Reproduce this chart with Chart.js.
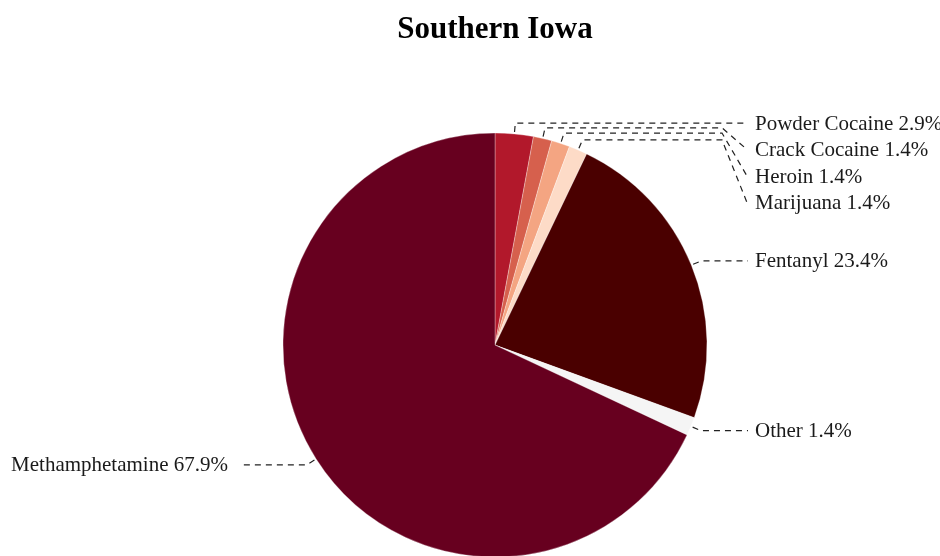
<!DOCTYPE html>
<html lang="en">
<head>
    <meta charset="UTF-8">
    <title>Southern Iowa</title>
    <script src="https://cdn.jsdelivr.net/npm/chart.js"></script>
    <style>
        html, body { margin: 0; padding: 0; background: #fff; }
        #wrap { width: 940px; height: 556px; }
    </style>
</head>
<body>
    <div id="wrap"><canvas id="pieChart"></canvas></div>

    <script>
        // Drug categories, clockwise from 12 o'clock
        const drugs = ["Powder Cocaine", "Crack Cocaine", "Heroin", "Marijuana", "Fentanyl", "Other", "Methamphetamine"];
        const shares = [2.9, 1.4, 1.4, 1.4, 23.4, 1.4, 67.9];
        const sliceColors = ["#b2182b", "#d6604d", "#f4a582", "#fddbc7", "#4a0000", "#f5f5f5", "#67001f"];

        const serif = "'Liberation Serif', 'Times New Roman', serif";

        // Draws the dashed leader lines and the outside labels
        const leaderLabels = {
            id: "leaderLabels",
            afterDatasetsDraw(chart) {
                const ctx = chart.ctx;
                const meta = chart.getDatasetMeta(0);
                let lastRightY = -Infinity;
                ctx.save();
                ctx.font = "21px " + serif;
                ctx.fillStyle = "#1a1a1a";
                ctx.strokeStyle = "#222";
                ctx.lineWidth = 1.2;
                ctx.setLineDash([6, 5]);
                ctx.textBaseline = "middle";

                meta.data.forEach((arc, i) => {
                    const p = arc.getProps(["x", "y", "startAngle", "endAngle", "outerRadius"], true);
                    const mid = (p.startAngle + p.endAngle) / 2;
                    const cos = Math.cos(mid), sin = Math.sin(mid);
                    const x0 = p.x + cos * (p.outerRadius + 2), y0 = p.y + sin * (p.outerRadius + 2);
                    const x1 = p.x + cos * (p.outerRadius + 11), y1 = p.y + sin * (p.outerRadius + 11);
                    const right = cos >= 0;
                    const text = drugs[i] + " " + shares[i].toFixed(1) + "%";

                    ctx.beginPath();
                    ctx.moveTo(x0, y0);
                    ctx.lineTo(x1, y1);
                    if (right) {
                        let ly = Math.max(y1, lastRightY + 26.5);
                        lastRightY = ly;
                        if (ly - y1 > 2) {
                            ctx.lineTo(722, y1);
                            ctx.lineTo(747, ly);
                        } else {
                            ctx.lineTo(748, y1);
                        }
                        ctx.stroke();
                        ctx.textAlign = "left";
                        ctx.fillText(text, 755, ly + 1);
                    } else {
                        ctx.lineTo(243, y1);
                        ctx.stroke();
                        ctx.textAlign = "right";
                        ctx.fillText(text, 228, y1 + 1);
                    }
                });
                ctx.restore();
            }
        };

        new Chart(document.getElementById("pieChart"), {
            type: "pie",
            data: {
                labels: drugs,
                datasets: [{
                    data: shares,
                    backgroundColor: sliceColors,
                    borderColor: "rgba(255,255,255,0.6)",
                    borderWidth: 0.5,
                    radius: 212
                }]
            },
            options: {
                responsive: true,
                maintainAspectRatio: false,
                animation: false,
                layout: { padding: { left: 50, right: 0, top: 0, bottom: 0 } },
                plugins: {
                    legend: { display: false },
                    tooltip: { enabled: false },
                    title: {
                        display: true,
                        text: "Southern Iowa",
                        color: "#000",
                        font: { family: serif, size: 31, weight: "bold", lineHeight: 1.2 },
                        padding: { top: 11, bottom: 86 }
                    }
                }
            },
            plugins: [leaderLabels]
        });
    </script>
</body>
</html>
